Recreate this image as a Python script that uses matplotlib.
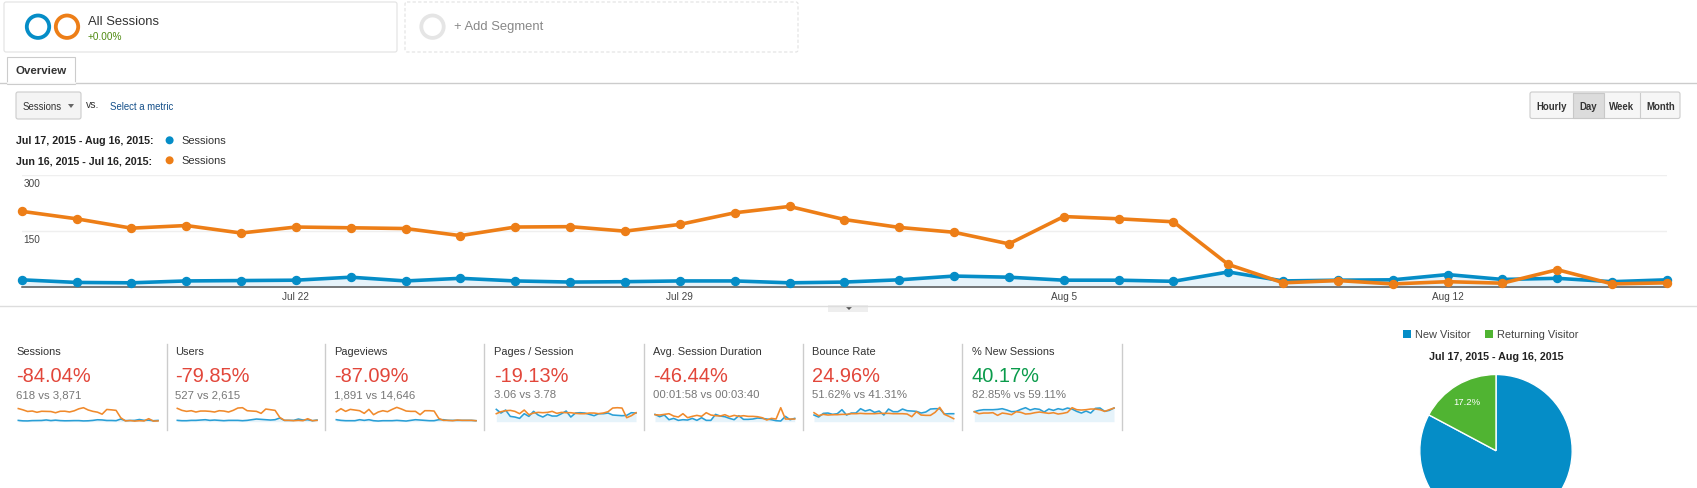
#!/usr/bin/env python
# -*- coding: utf-8 -*-
import matplotlib
matplotlib.use('Agg')
import matplotlib.pyplot as plt
from matplotlib.patches import Circle, FancyBboxPatch, Polygon, Rectangle
from matplotlib.transforms import ScaledTranslation

W, H = 1697, 489
BLUE = '#058dc7'
ORANGE = '#ed7e17'
FILL = '#e6f3fa'

plt.rcParams['font.family'] = ['Liberation Sans', 'DejaVu Sans']

# daily sessions
sessions_cur = [20, 13, 12, 17, 18, 19, 27, 17, 24, 17, 14, 15, 17, 17, 12, 14,
                20, 30, 27, 19, 19, 16, 41, 17, 19, 20, 34, 21, 24, 15, 20]
sessions_prev = [203, 183, 158, 165, 145, 161, 159, 157, 138, 161, 162, 150, 168, 199, 216, 181,
                 160, 147, 116, 189, 183, 175, 61, 12, 18, 9, 15, 11, 47, 9, 12]
date_ticks = [5, 12, 19, 26]
date_labels = ['Jul 22', 'Jul 29', 'Aug 5', 'Aug 12']

# sparkline heights, no axis in the picture so only relative
users_cur = [4, 3, 3, 4, 4, 5, 6, 4, 5, 4, 3, 4, 4, 4, 3, 4, 6, 8, 7, 6, 5, 6, 11, 4, 4, 4, 8, 5, 6, 3, 5]
users_prev = [40, 34, 31, 33, 29, 32, 32, 31, 29, 33, 32, 29, 34, 41, 42, 33, 32, 31, 25, 38, 36, 34, 13, 4, 4, 3, 4, 3, 9, 3, 4]
pageviews_cur = [6, 4, 3, 3, 3, 6, 4, 6, 3, 2, 3, 3, 3, 4, 3, 2, 4, 6, 5, 4, 3, 3, 6, 6, 4, 4, 4, 4, 4, 4, 3]
pageviews_prev = [30, 39, 31, 37, 35, 33, 25, 37, 21, 29, 33, 30, 37, 43, 38, 32, 31, 31, 21, 33, 33, 32, 10, 4, 4, 3, 5, 4, 4, 4, 3]
pages_cur = [37, 26, 35, 16, 14, 10, 24, 16, 31, 20, 14, 22, 17, 17, 24, 32, 14, 26, 27, 26, 22, 18, 24, 24, 26, 20, 19, 18, 19, 27, 26]
pages_prev = [24, 30, 33, 34, 31, 24, 35, 21, 26, 28, 27, 28, 31, 25, 28, 27, 27, 25, 24, 24, 26, 26, 24, 26, 30, 41, 42, 41, 12, 18, 27]
duration_cur = [22, 15, 20, 6, 10, 4, 6, 5, 10, 4, 12, 4, 4, 22, 17, 15, 10, 6, 18, 7, 7, 8, 11, 10, 8, 6, 3, 2, 16, 6, 10]
duration_prev = [21, 20, 22, 24, 17, 14, 24, 12, 16, 19, 16, 27, 20, 18, 17, 21, 15, 19, 16, 18, 16, 16, 15, 12, 5, 10, 8, 42, 8, 8, 8]
bounce_cur = [20, 14, 25, 26, 22, 24, 36, 20, 26, 26, 39, 32, 36, 28, 32, 20, 38, 30, 30, 38, 33, 32, 31, 26, 29, 38, 39, 39, 23, 24, 24]
bounce_prev = [27, 18, 22, 20, 21, 21, 22, 22, 24, 24, 25, 24, 24, 24, 25, 25, 25, 24, 24, 24, 23, 15, 30, 20, 19, 19, 28, 43, 22, 16, 9]
new_cur = [30, 34, 36, 36, 36, 37, 39, 35, 30, 31, 37, 42, 35, 39, 37, 29, 38, 34, 39, 36, 41, 38, 31, 26, 32, 26, 40, 41, 31, 34, 41]
new_prev = [30, 24, 26, 26, 27, 19, 26, 24, 21, 30, 28, 23, 24, 27, 29, 27, 25, 27, 23, 25, 28, 42, 36, 35, 36, 38, 38, 36, 31, 36, 41]

metric_names = ['Sessions', 'Users', 'Pageviews', 'Pages / Session',
                'Avg. Session Duration', 'Bounce Rate', '% New Sessions']
metric_changes = ['-84.04%', '-79.85%', '-87.09%', '-19.13%', '-46.44%', '24.96%', '40.17%']
metric_compare = ['618 vs 3,871', '527 vs 2,615', '1,891 vs 14,646', '3.06 vs 3.78',
                  '00:01:58 vs 00:03:40', '51.62% vs 41.31%', '82.85% vs 59.11%']
pie_labels = ['New Visitor', 'Returning Visitor']
pie_values = [82.8, 17.2]


def px(size):
    return size * 72 / 100.0


def axes_px(x0, y0, x1, y1):
    # y0 top, y1 bottom, in picture pixels
    a = fig.add_axes([x0 / W, 1 - y1 / H, (x1 - x0) / W, (y1 - y0) / H])
    a.patch.set_visible(False)
    return a


def label(x, y, s, size=11, color='#333333', weight='normal', ha='left'):
    page.text(x, y, s, fontsize=px(size), color=color, fontweight=weight, ha=ha, va='center')


def box(x0, y0, x1, y1, fc='white', ec='#dddddd', ls='-'):
    page.add_patch(FancyBboxPatch((x0 + 2, y0 + 2), x1 - x0 - 4, y1 - y0 - 4,
                                  boxstyle='round,pad=2,rounding_size=2',
                                  fc=fc, ec=ec, lw=0.8, ls=ls))


fig = plt.figure(figsize=(W / 100.0, H / 100.0), dpi=100, facecolor='white')
page = fig.add_axes([0, 0, 1, 1])
page.set_xlim(0, W)
page.set_ylim(H, 0)
page.axis('off')

# segment boxes
box(4, 3, 397, 53, ec='#e2e2e2')
box(405, 3, 798, 53, ec='#e2e2e2', ls=(0, (3, 2)))
for cx, col in [(38, BLUE), (67, ORANGE), (432.5, '#e5e5e5')]:
    page.add_patch(Circle((cx, 27.7), 11.2, fc='none', ec=col, lw=px(3.8)))
label(88, 22, 'All Sessions', 13, '#333333')
label(88, 36.7, '+0.00%', 10, '#4f8a10')
label(454, 26.7, '+ Add Segment', 13, '#888888')

# tab row
page.plot([0, W], [84.3, 84.3], color='#cccccc', lw=1)
page.add_patch(Rectangle((7, 58), 68, 26.5, fc='white', ec='#cccccc', lw=0.8))
page.plot([7.5, 74.5], [84.3, 84.3], color='white', lw=1.2)
label(41, 71, 'Overview', 11.5, '#333333', 'bold', 'center')

# metric picker
box(16, 93, 81, 120, fc='#f4f4f4', ec='#cccccc')
label(23, 107, 'Sessions', 9.6)
page.add_patch(Polygon([(68, 105), (74, 105), (71, 109)], fc='#666666'))
label(85.5, 105, 'vs.', 10.5)
label(110, 107, 'Select a metric', 9.7, '#15508a')

# day/week buttons
box(1530, 93, 1680, 119.5, fc='#f6f6f6', ec='#cccccc')
page.add_patch(Rectangle((1573, 93.5), 30.7, 25.5, fc='#dcdcdc', ec='#c8c8c8', lw=0.8))
page.plot([1640.3, 1640.3], [93.5, 119], color='#cccccc', lw=0.8)
for cx, s in [(1552, 'Hourly'), (1588.5, 'Day'), (1622, 'Week'), (1660.5, 'Month')]:
    label(cx, 106.5, s, 9.6, '#333333', 'bold', 'center')

# chart legend
label(16, 141.3, 'Jul 17, 2015 - Aug 16, 2015:', 10.6, '#222222', 'bold')
label(16, 161.3, 'Jun 16, 2015 - Jul 16, 2015:', 10.6, '#222222', 'bold')
page.add_patch(Circle((169.6, 141.3), 4, fc=BLUE, ec='none'))
page.add_patch(Circle((169.6, 161.3), 4, fc=ORANGE, ec='none'))
label(181.6, 141.3, 'Sessions', 11)
label(181.6, 161.3, 'Sessions', 11)

# main chart
ax = axes_px(21.7, 176, 1667, 288.3)
days = list(range(len(sessions_cur)))
ax.fill_between(days, sessions_cur, 0, color=FILL, lw=0)
ax.plot(days, sessions_cur, color=BLUE, lw=px(3.6), marker='o', ms=px(8), clip_on=False, zorder=3)
ax.plot(days, sessions_prev, color=ORANGE, lw=px(3.6), marker='o', ms=px(8), clip_on=False, zorder=4)
ax.set_xlim(0, 30)
ax.set_ylim(0, 300)
ax.set_xticks(date_ticks)
ax.set_xticklabels(date_labels, fontsize=px(10), color='#444444')
ax.set_yticks([150, 300])
ax.set_yticklabels(['150', '300'], fontsize=px(10), color='#444444', ha='left', va='top')
ax.tick_params(axis='x', length=0, pad=px(4))
ax.tick_params(axis='y', length=0, pad=px(-2))
# labels sit a little under their gridlines
shift = ScaledTranslation(0, -3 / 100.0, fig.dpi_scale_trans)
for t in ax.get_yticklabels():
    t.set_transform(t.get_transform() + shift)
ax.grid(axis='y', color='#efefef', lw=1)
ax.set_axisbelow(True)
for side in ['top', 'left', 'right']:
    ax.spines[side].set_visible(False)
ax.spines['bottom'].set_color('#555555')
ax.spines['bottom'].set_linewidth(1.1)

# collapse handle
page.plot([0, W], [306.7, 306.7], color='#dddddd', lw=1)
page.add_patch(Rectangle((828, 306), 40, 7, fc='#eeeeee', ec='none'))
page.add_patch(Polygon([(846, 308), (852, 308), (849, 311)], fc='#555555'))

# metric table
columns = [16, 175, 334, 494, 653, 812, 972]
dividers = [166.5, 325, 484, 644.3, 803.3, 962.3, 1122.3]
spark_left = [18.3, 177.3, 336.3, 496.3, 655, 814, 974.3]
spark_data = [(sessions_cur, sessions_prev), (users_cur, users_prev), (pageviews_cur, pageviews_prev),
              (pages_cur, pages_prev), (duration_cur, duration_prev), (bounce_cur, bounce_prev),
              (new_cur, new_prev)]
for i, name in enumerate(metric_names):
    x = columns[i]
    good = i == 6
    label(x, 352, name, 11, '#333333')
    label(x, 376.5, metric_changes[i], 20, '#0a9b4b' if good else '#e2463a')
    label(x, 395, metric_compare[i], 11.4, '#777777')
    page.plot([dividers[i], dividers[i]], [345, 430.7], color='#cccccc', lw=1)

    cur, prev = spark_data[i]
    sp = axes_px(spark_left[i], 406.7, spark_left[i] + 139.7, 422.7)
    sp.fill_between(days, cur, 0, color=FILL, lw=0)
    sp.plot(days, cur, color='#2a9fd6', lw=px(1.6), clip_on=False)
    sp.plot(days, prev, color='#f08a2c', lw=px(1.6), clip_on=False)
    sp.set_xlim(0, 30)
    # first sparkline shares the sessions scale, the rest are in picture heights
    sp.set_ylim(0, 247 if i == 0 else 48)
    sp.axis('off')

# pie
page.add_patch(Rectangle((1403, 331), 8, 8, fc=BLUE, ec='none'))
page.add_patch(Rectangle((1485.3, 331), 8, 8, fc='#50b432', ec='none'))
label(1415, 335.3, pie_labels[0], 11, '#444444')
label(1497.3, 335.3, pie_labels[1], 11, '#444444')
label(1496, 357, 'Jul 17, 2015 - Aug 16, 2015', 10.8, '#222222', 'bold', 'center')

pie_ax = axes_px(1496 - 76.2, 451.7 - 76.2, 1496 + 76.2, 451.7 + 76.2)
wedges, texts, autotexts = pie_ax.pie(
    pie_values, colors=[BLUE, '#50b432'], startangle=90, counterclock=False, radius=1,
    wedgeprops={'edgecolor': 'white', 'linewidth': 1},
    autopct=lambda p: '%.1f%%' % p if p < 50 else '', pctdistance=0.75,
    textprops={'color': 'white', 'fontsize': px(9.5)})
pie_ax.set_xlim(-1, 1)
pie_ax.set_ylim(-1, 1)

fig.savefig('out.png', dpi=100)
